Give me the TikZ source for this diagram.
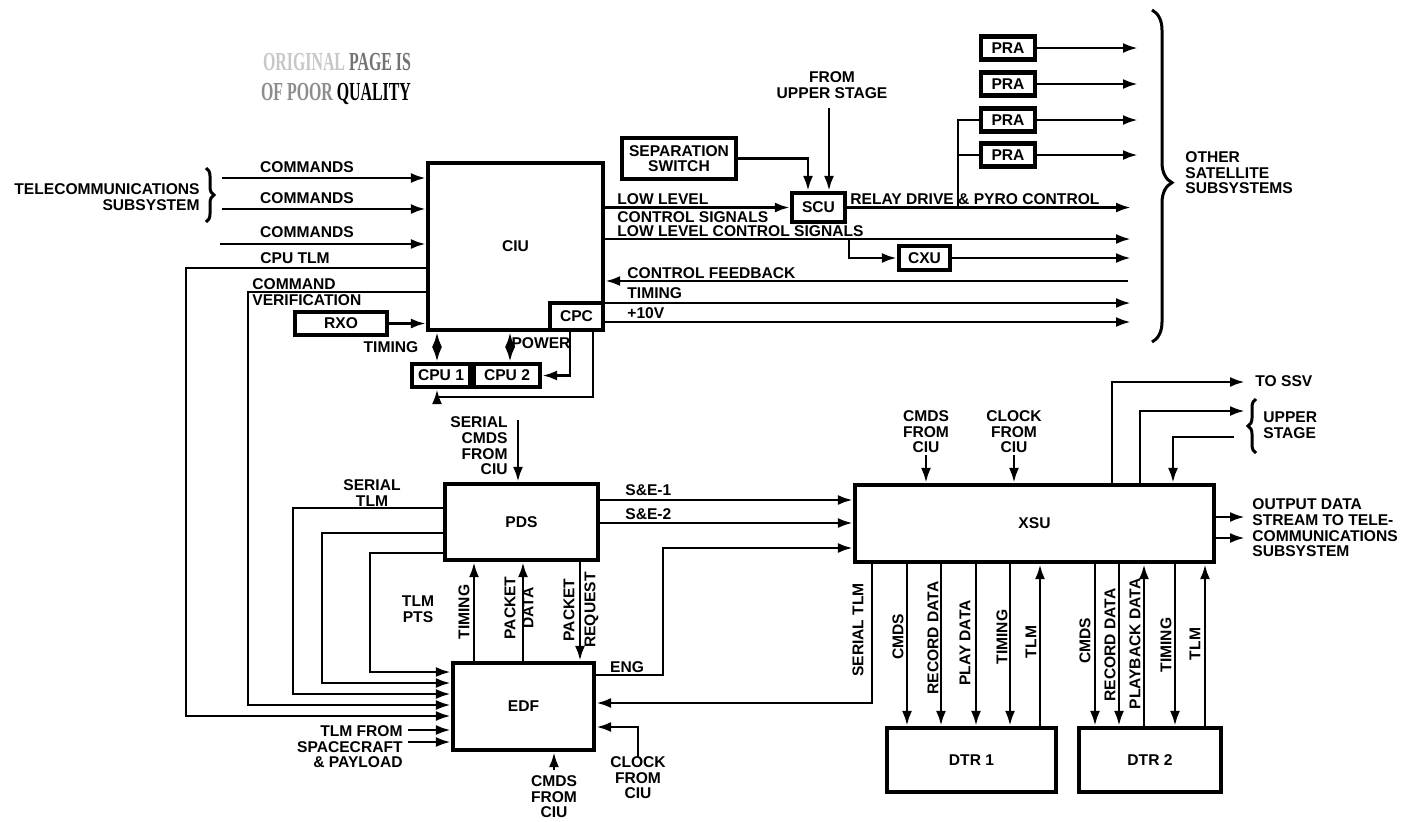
\documentclass[tikz,border=0pt]{standalone}
\usepackage{fontspec}
\setmainfont{Liberation Sans}
\newfontfamily\stampfont{Liberation Serif}
\usetikzlibrary{arrows.meta,calc,positioning,decorations.pathreplacing}

\begin{document}
\begin{tikzpicture}[x=0.5pt,y=-0.5pt,>={Latex[length=7.5pt,width=5pt]},
  every node/.style={font=\bfseries\fontsize{7.8}{7.8}\selectfont,inner sep=0pt,align=center},
  sig/.style={line width=1.4pt},
  blk/.style={draw,line width=2.1pt},
  brc/.style={decorate,line width=1.5pt}]
 \useasboundingbox (0,0) rectangle (1404,821);

 % stamp
 \node[font=\stampfont\bfseries\fontsize{13}{13}\selectfont] (stampa) at (337,62)
  {\scalebox{0.61}[1]{\color{black!22}ORIGINAL \color{black!55}PAGE IS}};
 \node[font=\stampfont\bfseries\fontsize{13}{13}\selectfont] (stampb) at (336,94)
  {\scalebox{0.61}[1]{\color{black!45}OF POOR \color{black}QUALITY}};

 % blocks
 \node[blk,minimum width=87.5pt,minimum height=83.5pt] (ciu) at (515.5,246.5) {CIU};
 \node[blk,minimum width=26.5pt,minimum height=13.5pt] (cpc) at (576.5,316.5) {CPC};
 \node[blk,minimum width=46pt,minimum height=11.5pt] (rxo) at (341,323.5) {RXO};
 \node[blk,minimum width=29pt,minimum height=11.5pt] (cpu1) at (441,375.5) {CPU 1};
 \node[blk,minimum width=33pt,minimum height=11.5pt] (cpu2) at (507,375.5) {CPU 2};
 \node[blk,minimum width=57pt,minimum height=20.5pt] (sep) at (679,158.5) {SEPARATION\\SWITCH};
 \node[blk,minimum width=26.5pt,minimum height=14.5pt] (scu) at (818.5,207.5) {SCU};
 \node[blk,minimum width=27pt,minimum height=11.5pt] (pra1) at (1008,48) {PRA};
 \node[blk,minimum width=27pt,minimum height=11.5pt] (pra2) at (1008,84) {PRA};
 \node[blk,minimum width=27pt,minimum height=11.5pt] (pra3) at (1008,120) {PRA};
 \node[blk,minimum width=27pt,minimum height=11.5pt] (pra4) at (1008,155) {PRA};
 \node[blk,minimum width=25.5pt,minimum height=12pt] (cxu) at (924.5,258) {CXU};
 \node[blk,minimum width=76.5pt,minimum height=38pt] (pds) at (521.5,522) {PDS};
 \node[blk,minimum width=70.5pt,minimum height=43.5pt] (edf) at (523.5,706.5) {EDF};
 \node[blk,minimum width=179.5pt,minimum height=38.5pt] (xsu) at (1034.5,523.5) {XSU};
 \node[blk,minimum width=84.5pt,minimum height=32pt] (dtra) at (971.5,760) {DTR 1};
 \node[blk,minimum width=71pt,minimum height=32pt] (dtrb) at (1150,760) {DTR 2};

 % telecommunications inputs
 \node[anchor=east,align=right] (tele) at (200,197) {TELECOMMUNICATIONS\\SUBSYSTEM};
 \draw[brc,decoration={brace,amplitude=4pt}] (206,168) -- (206,222);
 \coordinate (cmda) at (222,178);
 \coordinate (cmdb) at (222,209);
 \coordinate (cmdc) at (220,244);
 \foreach \c in {cmda,cmdb,cmdc}
  \draw[sig,->] (\c) -- (\c -| ciu.west);
 \node (lcmda) at (307,167) {COMMANDS};
 \node (lcmdb) at (307,198) {COMMANDS};
 \node (lcmdc) at (307,232) {COMMANDS};
 \node[anchor=west] (lcputlm) at (260,258) {CPU TLM};
 \node[anchor=west,align=left] (lverif) at (252,292) {COMMAND\\VERIFICATION};
 \draw[sig,->] (ciu.west |- 0,268) -| (186,716) -- (edf.west |- 0,716);
 \draw[sig,->] (ciu.west |- 0,292) -| (248,705) -- (edf.west |- 0,705);
 \draw[sig,->] (rxo.east) -- (rxo.east -| ciu.west);

 % processors
 \draw[sig,<->] (ciu.south -| 437,0) -- (cpu1.north -| 437,0);
 \draw[sig,<->] (ciu.south -| 510,0) -- (cpu2.north -| 510,0);
 \draw[sig,->] (cpc.south -| 570,0) |- (cpu2.east);
 \draw[sig,->] (cpc.south -| 593,0) |- (437,397) -- (cpu1.south -| 437,0);
 \node (ltiming) at (391,347) {TIMING};
 \node (lpower) at (541,343) {POWER};

 % CIU outputs
 \draw[sig,->] (ciu.east |- scu) -- (scu.west);
 \node[anchor=west] (llow) at (617,199) {LOW LEVEL};
 \node[anchor=west] (lctrl) at (617,217) {CONTROL SIGNALS};
 \coordinate (llcs) at (1131,239);
 \draw[sig,->] (ciu.east |- llcs) -- (llcs);
 \node[anchor=west] (lllcs) at (617,231.5) {LOW LEVEL CONTROL SIGNALS};
 \draw[sig,->] (llcs -| 849,0) |- (cxu.west);
 \draw[sig,->] (cxu.east) -- (cxu.east -| llcs);
 \coordinate (cfb) at (1128,281);
 \draw[sig,->] (cfb) -- (cfb -| ciu.east);
 \node[anchor=west] (lcfb) at (627,273) {CONTROL FEEDBACK};
 \coordinate (tmg) at (1131,303);
 \draw[sig,->] (ciu.east |- tmg) -- (tmg);
 \node[anchor=west] (ltmg) at (627,293) {TIMING};
 \coordinate (pwr) at (1131,322);
 \draw[sig,->] (cpc.east |- pwr) -- (pwr);
 \node[anchor=west] (lpwr) at (627,313) {+10V};

 % SCU and PRA
 \draw[sig,->] (sep.east) -| (scu.north -| 808,0);
 \coordinate (fromus) at (829,108);
 \draw[sig,->] (fromus) -- (fromus |- scu.north);
 \node (lfromus) at (832,85) {FROM\\UPPER STAGE};
 \draw[sig,->] (scu.east) -- (scu.east -| llcs);
 \node[anchor=west] (lrelay) at (850,199) {RELAY DRIVE \& PYRO CONTROL};
 \draw[sig] (scu.east -| 958,0) |- (pra3.west);
 \draw[sig] (pra4.west) -- (pra4.west -| 958,0);
 \foreach \i in {1,...,4}
  \draw[sig,->] (pra\i.east) -- (pra\i.east -| 1138,0);
 \draw[brc,decoration={brace,amplitude=10pt,aspect=0.52}] (1152,10) -- (1152,342);
 \node[anchor=west,align=left] (lother) at (1185,173) {OTHER\\SATELLITE\\SUBSYSTEMS};

 % PDS and EDF
 \coordinate (scmd) at (518,420);
 \draw[sig,->] (scmd) -- (scmd |- pds.north);
 \node[anchor=east,align=right] (lscmd) at (508,446) {SERIAL\\CMDS\\FROM\\CIU};
 \node (lstlm) at (372,493) {SERIAL\\TLM};
 \draw[sig,->] (pds.west |- 0,508) -| (293,694) -- (edf.west |- 0,694);
 \draw[sig,->] (pds.west |- 0,533) -| (322,683) -- (edf.west |- 0,683);
 \draw[sig,->] (pds.west |- 0,553) -| (370,672) -- (edf.west |- 0,672);
 \node (ltlmpts) at (418,609) {TLM\\PTS};
 \draw[sig,->] (edf.north -| 474,0) -- (pds.south -| 474,0);
 \draw[sig,->] (edf.north -| 523,0) -- (pds.south -| 523,0);
 \draw[sig,->] (pds.south -| 580,0) -- (edf.north -| 580,0);
 \node[rotate=90] (lpt) at (464,612) {TIMING};
 \node[rotate=90,font=\bfseries\fontsize{7.8}{9}\selectfont] (lpd) at (519,608) {PACKET\\DATA};
 \node[rotate=90,font=\bfseries\fontsize{7.8}{10.5}\selectfont] (lpr) at (581,610) {PACKET\\REQUEST};
 \coordinate (tlma) at (408,730);
 \coordinate (tlmb) at (408,742);
 \draw[sig,->] (tlma) -- (tlma -| edf.west);
 \draw[sig,->] (tlmb) -- (tlmb -| edf.west);
 \node[anchor=east,align=right] (ltlmf) at (403,747) {TLM FROM\\SPACECRAFT\\\& PAYLOAD};
 \coordinate (ecmd) at (554,770);
 \draw[sig,->] (ecmd) -- (ecmd |- edf.south);
 \node (lecmd) at (554,797) {CMDS\\FROM\\CIU};
 \coordinate (eclk) at (638,757);
 \draw[sig,->] (eclk) |- (edf.east |- 0,727);
 \node (leclk) at (638,778) {CLOCK\\FROM\\CIU};

 % XSU
 \draw[sig,->] (pds.east |- 0,500) -- (xsu.west |- 0,500);
 \draw[sig,->] (pds.east |- 0,523) -- (xsu.west |- 0,523);
 \draw[sig,->] (edf.east |- 0,675) -| (663,548) -- (xsu.west |- 0,548);
 \node[anchor=west] (lse1) at (625,490) {S\&E-1};
 \node[anchor=west] (lse2) at (625,514) {S\&E-2};
 \node (leng) at (627,667) {ENG};
 \draw[sig,->] (xsu.south -| 872,0) |- (edf.east |- 0,703);
 \node[rotate=90] (lxstlm) at (858,630) {SERIAL TLM};
 \coordinate (xcmd) at (926,455);
 \draw[sig,->] (xcmd) -- (xcmd |- xsu.north);
 \node (lxcmd) at (926,432) {CMDS\\FROM\\CIU};
 \coordinate (xclk) at (1014,455);
 \draw[sig,->] (xclk) -- (xclk |- xsu.north);
 \node (lxclk) at (1014,432) {CLOCK\\FROM\\CIU};
 \coordinate (ssv) at (1245,382);
 \draw[sig,->] (xsu.north -| 1112,0) |- (ssv);
 \node[anchor=west] (lssv) at (1255,381) {TO SSV};
 \coordinate (usa) at (1245,411);
 \draw[sig,->] (xsu.north -| 1140,0) |- (usa);
 \coordinate (usb) at (1234,437);
 \draw[sig,->] (usb) -| (xsu.north -| 1173,0);
 \draw[brc,decoration={brace,amplitude=4pt}] (1256,453) -- (1256,399);
 \node[anchor=west,align=left] (lus) at (1263,425) {UPPER\\STAGE};
 \coordinate (outa) at (1245,517);
 \coordinate (outb) at (1245,538);
 \draw[sig,->] (outa -| xsu.east) -- (outa);
 \draw[sig,->] (outb -| xsu.east) -- (outb);
 \node[anchor=west,align=left] (lout) at (1252,528) {OUTPUT DATA\\STREAM TO TELE-\\COMMUNICATIONS\\SUBSYSTEM};

 % recorders
 \foreach \x in {907,941,976,1010,1095,1119,1175}
  \draw[sig,->] (xsu.south -| \x,0) -- (dtra.north -| \x,0);
 \foreach \x in {1040,1144,1205}
  \draw[sig,->] (dtra.north -| \x,0) -- (xsu.south -| \x,0);
 \node[rotate=90] (lda1) at (898,637) {CMDS};
 \node[rotate=90] (lda2) at (933,638) {RECORD DATA};
 \node[rotate=90] (lda3) at (965,643) {PLAY DATA};
 \node[rotate=90] (lda4) at (1002,637) {TIMING};
 \node[rotate=90] (lda5) at (1031,642) {TLM};
 \node[rotate=90] (ldb1) at (1085,641) {CMDS};
 \node[rotate=90] (ldb2) at (1110,645) {RECORD DATA};
 \node[rotate=90] (ldb3) at (1135,644) {PLAYBACK DATA};
 \node[rotate=90] (ldb4) at (1166,645) {TIMING};
 \node[rotate=90] (ldb5) at (1195,644) {TLM};
\end{tikzpicture}
\end{document}
